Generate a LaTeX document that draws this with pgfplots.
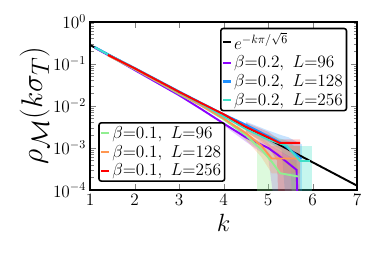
\documentclass[border=0pt]{standalone}
\usepackage{pgfplots}
\pgfplotsset{compat=1.18}
\definecolor{cpur}{RGB}{140,0,255}
\definecolor{cblu}{RGB}{30,144,255}
\definecolor{ccya}{RGB}{64,224,200}
\definecolor{cgre}{RGB}{144,238,144}
\definecolor{cora}{RGB}{255,150,80}
\definecolor{cred}{RGB}{255,0,0}
\pgfplotsset{
  legend image code/.code={\draw[#1, line width=1.8pt] (0cm,0cm) -- (0.22cm,0cm);},
}
\begin{document}
\begin{tikzpicture}
\begin{axis}[name=main,
  scale only axis, width=222pt, height=140pt,
  xmin=1, xmax=7, ymin=1e-4, ymax=1, ymode=log,
  xtick={1,2,3,4,5,6,7},
  ytick={1e-4,1e-3,1e-2,1e-1,1},
  tick align=inside,
  major tick length=5pt, minor tick length=3pt,
  tick label style={font=\Large},
  legend cell align=left,
  legend style={font=\Large, rounded corners=2pt, draw=black, line width=1.3pt, fill=white,
    inner xsep=1pt, inner ysep=1pt, row sep=0pt, at={(0.963,0.964)}, anchor=north east},
  axis line style={line width=1.5pt},
  xlabel={$k$}, ylabel={$\rho_{\mathcal{M}}(k\sigma_T)$},
  xlabel style={font=\huge},
  ylabel style={font=\Huge, yshift=-4pt},
]
% bands
\addplot[fill=cpur, fill opacity=0.22, draw=none, forget plot] coordinates {
(4.0,3.9e-3)(4.5,2.0e-3)(5,1.2e-3)(5.22,9.0e-4)(5.64,5e-4)(5.64,1e-5)(5.22,1e-5)(5.0,6e-4)(4.5,1.4e-3)(4.0,3.4e-3)} -- cycle;
\addplot[fill=cblu, fill opacity=0.25, draw=none, forget plot] coordinates {
(4.5,4.2e-3)(5,2.6e-3)(5.3,2.0e-3)(5.45,1.8e-3)(5.76,1.2e-3)(5.76,1e-5)(5.45,1e-5)(5.3,9e-4)(5,1.4e-3)(4.5,3.0e-3)} -- cycle;
\addplot[fill=ccya, fill opacity=0.3, draw=none, forget plot] coordinates {
(4.5,3.3e-3)(5,2.1e-3)(5.49,1.4e-3)(5.58,1.1e-3)(5.98,1.1e-3)(5.98,1e-5)(5.58,1e-5)(5.49,6e-4)(5,1.2e-3)(4.5,2.4e-3)} -- cycle;
\addplot[fill=cgre, fill opacity=0.3, draw=none, forget plot] coordinates {
(4.3,3.4e-3)(4.75,1.5e-3)(5.2,8e-4)(5.67,4e-4)(5.67,1e-5)(4.75,1e-5)(4.75,1.0e-3)(4.5,1.5e-3)(4.3,2.6e-3)} -- cycle;
\addplot[fill=cora, fill opacity=0.25, draw=none, forget plot] coordinates {
(4.3,4.0e-3)(4.85,1.8e-3)(5.08,1.1e-3)(5.72,1.1e-3)(5.72,2.5e-4)(5.08,2.5e-4)(4.85,6e-4)(4.3,2.7e-3)} -- cycle;
\addplot[fill=cred, fill opacity=0.2, draw=none, forget plot] coordinates {
(4.5,4.0e-3)(5,2.4e-3)(5.25,1.6e-3)(5.72,1.6e-3)(5.72,1e-5)(5.25,1e-5)(5.2,5e-4)(5,1.1e-3)(4.5,2.4e-3)} -- cycle;
% lines
\addplot[black, line width=1.6pt] coordinates {(1,0.2773)(7,1.264e-4)};
\addlegendentry{$e^{-k\pi/\sqrt{6}}$}
\addplot[cpur, line width=1.6pt] coordinates {
(1.1,0.240)(1.5,0.141)(2,0.0708)(2.5,0.0355)(3,0.0178)(3.5,8.32e-3)(4,3.80e-3)(4.5,1.78e-3)(5,1.0e-3)(5.22,6.8e-4)(5.64,3.0e-4)(5.66,5e-5)};
\addlegendentry{$\beta{=}0.2,\ L{=}96$}
\addplot[cblu, line width=1.6pt] coordinates {
(1.1,0.251)(1.5,0.148)(2,0.0794)(2.5,0.0417)(3,0.0219)(3.5,0.0117)(4,6.31e-3)(4.5,3.55e-3)(5,1.91e-3)(5.3,1.3e-3)(5.75,5.5e-4)};
\addlegendentry{$\beta{=}0.2,\ L{=}128$}
\addplot[cgre, line width=1.6pt, forget plot] coordinates {
(1.4,0.158)(2,0.0741)(2.5,0.038)(3,0.0191)(3.5,0.010)(4,4.79e-3)(4.5,2.0e-3)(4.86,8.9e-4)(5.08,4.7e-4)(5.27,2.5e-4)(5.67,2.1e-4)};
\addplot[cora, line width=1.6pt, forget plot] coordinates {
(1.4,0.158)(2,0.0759)(2.5,0.0389)(3,0.020)(3.5,0.0102)(4,5.01e-3)(4.5,2.24e-3)(4.85,1.12e-3)(5.08,5.6e-4)(5.72,5.6e-4)};
\addplot[ccya, line width=1.6pt] coordinates {
(1.1,0.245)(1.5,0.145)(2,0.0776)(2.5,0.0407)(3,0.0209)(3.5,0.011)(4,5.62e-3)(4.5,2.82e-3)(5,1.58e-3)(5.42,1.12e-3)(5.53,8.1e-4)(5.72,4.9e-4)(5.94,4.9e-4)};
\addlegendentry{$\beta{=}0.2,\ L{=}256$}
\addplot[cred, line width=1.6pt, forget plot] coordinates {
(1.4,0.162)(2,0.0776)(2.5,0.0407)(3,0.0214)(3.5,0.0115)(4,6.31e-3)(4.5,3.16e-3)(5,1.78e-3)(5.25,1.32e-3)(5.72,1.32e-3)};
\end{axis}
\begin{axis}[
  scale only axis, width=222pt, height=140pt,
  xmin=1, xmax=7, ymin=1, ymax=2, hide axis,
  legend cell align=left,
  legend style={font=\Large, rounded corners=2pt, draw=black, line width=1.3pt, fill=white,
    inner xsep=1pt, inner ysep=1pt, row sep=0pt, at={(0.03,0.048)}, anchor=south west},
]
\addlegendimage{cgre}
\addlegendentry{$\beta{=}0.1,\ L{=}96$}
\addlegendimage{cora}
\addlegendentry{$\beta{=}0.1,\ L{=}128$}
\addlegendimage{cred}
\addlegendentry{$\beta{=}0.1,\ L{=}256$}
\end{axis}
\path[use as bounding box] ([xshift=-75pt,yshift=-55pt]main.south west) rectangle ([xshift=14pt,yshift=18pt]main.north east);
\end{tikzpicture}
\end{document}
